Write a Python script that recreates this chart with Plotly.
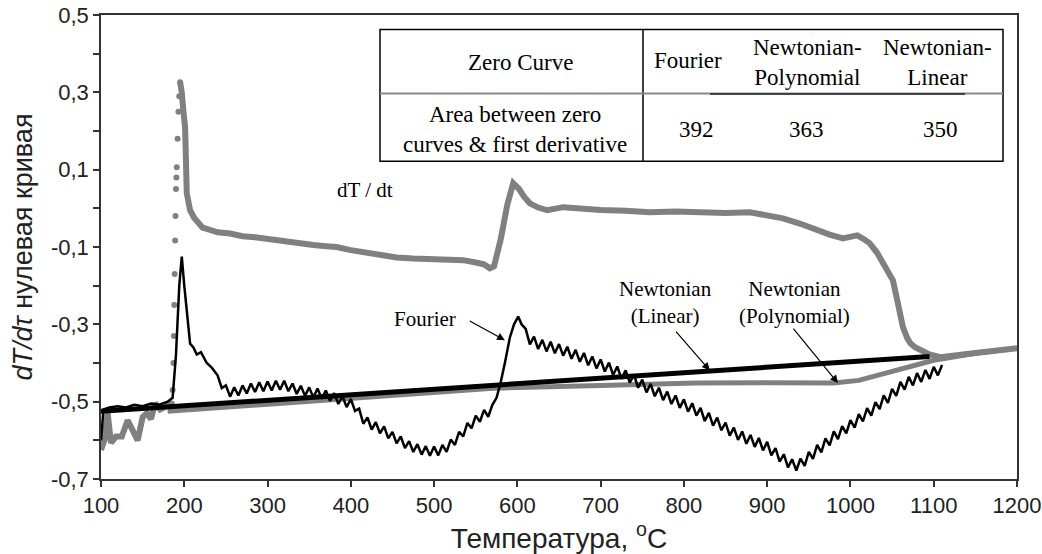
import plotly.graph_objects as go

# ---------------- data ----------------
# dT/dt: low-temperature part, steep rise (drawn as dots in the source), and the rest
dtdt_pre_t = [100, 104, 108, 112, 118, 125, 132, 138, 144, 150, 155, 160, 165, 171, 177, 185]
dtdt_pre_v = [-0.625, -0.600, -0.530, -0.607, -0.590, -0.590, -0.548, -0.575, -0.600, -0.540,
              -0.530, -0.545, -0.504, -0.520, -0.514, -0.505]
dtdt_rise_t = [185, 186, 187, 187.5, 188, 188.5, 189, 189.5, 190, 190.5, 191, 192, 193, 194, 195]
dtdt_rise_v = [-0.505, -0.470, -0.400, -0.330, -0.250, -0.170, -0.083, -0.020, 0.050, 0.080,
               0.106, 0.180, 0.250, 0.290, 0.326]
dtdt_post_t = [195, 197, 199, 201, 203, 205, 207, 212, 217, 222,
               230, 240, 255, 270, 285, 300, 315, 327, 340, 355, 370, 383, 400, 420, 440, 455,
               475, 495, 515, 535, 550, 560, 567, 572, 580, 588, 595, 602, 608, 615, 625, 636,
               655, 680, 700, 730, 759, 790, 820, 850, 879, 900, 919, 940, 960, 975, 991, 1000,
               1008, 1015, 1023, 1032, 1039, 1045, 1051, 1057, 1063, 1068, 1072, 1078, 1084,
               1095, 1108, 1120, 1135, 1150, 1159, 1175, 1190, 1200]
dtdt_post_v = [0.326, 0.300, 0.250, 0.210, 0.039, 0.010, -0.005, -0.025, -0.040, -0.050,
               -0.055, -0.062, -0.065, -0.072, -0.075, -0.080, -0.085, -0.088, -0.092, -0.095,
               -0.098, -0.100, -0.108, -0.115, -0.122, -0.127,
               -0.130, -0.132, -0.133, -0.134, -0.140, -0.145, -0.155, -0.150, -0.080, 0.010,
               0.065, 0.050, 0.030, 0.013, 0.002, -0.005,
               0.003, -0.002, -0.004, -0.006, -0.010, -0.008, -0.010, -0.012, -0.010, -0.018,
               -0.026, -0.040, -0.057, -0.068, -0.078, -0.074,
               -0.070, -0.078, -0.090, -0.115, -0.142, -0.165, -0.186, -0.246, -0.307, -0.335,
               -0.349, -0.360, -0.367,
               -0.378, -0.385, -0.383, -0.378, -0.374, -0.372, -0.368, -0.364, -0.362]

fourier_t = [100, 103, 110, 120, 130, 140, 150, 160, 170, 180, 186, 190, 194, 197, 200, 203,
             207, 211, 215, 220, 227, 233,
             240, 245, 250, 255, 260, 265, 270, 275, 280, 285, 290, 295, 300, 305, 310, 315,
             320, 325, 330, 335, 340, 345, 350, 355, 360, 365, 370, 375, 380, 385, 390, 395,
             400, 405, 410, 415, 420, 425, 430, 435, 440, 445, 450, 455, 460, 465, 470, 475,
             480, 485, 490, 495, 500, 505, 510, 515, 520, 525, 530, 535, 540, 545, 550, 555,
             560, 565, 570, 575, 580, 585, 591, 596, 601, 605,
             610, 615, 620, 625, 630, 635, 640, 645, 650, 655, 660, 665, 670, 675, 680, 685,
             690, 695, 700, 705, 710, 715, 720, 725, 730, 735, 740, 745, 750, 755, 760, 765,
             770, 775, 780, 785, 790, 795, 800, 805, 810, 815, 820, 825, 830, 835, 840, 845,
             850, 855, 860, 865, 870, 875, 880, 885, 890, 895, 900, 905, 910, 915, 920, 925,
             930, 935, 940, 945, 950, 955, 960, 965, 970, 975, 980, 985, 990, 995, 1000, 1005,
             1010, 1015, 1020, 1025, 1030, 1035, 1040, 1045, 1050, 1055, 1060, 1065, 1070,
             1075, 1080, 1085, 1090, 1095, 1100, 1105, 1110]
fourier_v = [-0.600, -0.520, -0.515, -0.512, -0.515, -0.508, -0.512, -0.505, -0.508, -0.500,
             -0.490, -0.380, -0.200, -0.125, -0.200, -0.270,
             -0.350, -0.360, -0.378, -0.372, -0.400, -0.412,
             -0.432, -0.465, -0.458, -0.487, -0.463, -0.484, -0.458, -0.479, -0.453, -0.475,
             -0.450, -0.473, -0.448, -0.471, -0.446, -0.469,
             -0.446, -0.473, -0.453, -0.480, -0.459, -0.485, -0.463, -0.489, -0.466, -0.492,
             -0.471, -0.498, -0.478, -0.506, -0.486, -0.514,
             -0.493, -0.524, -0.518, -0.557, -0.541, -0.572, -0.553, -0.582, -0.564, -0.595,
             -0.578, -0.608, -0.590, -0.620, -0.602, -0.630,
             -0.610, -0.637, -0.615, -0.640, -0.616, -0.639, -0.612, -0.630, -0.598, -0.612,
             -0.578, -0.590, -0.555, -0.569, -0.536, -0.552,
             -0.521, -0.539, -0.508, -0.490, -0.450, -0.400, -0.334, -0.300, -0.280, -0.300,
             -0.312, -0.352, -0.332, -0.364, -0.340, -0.370, -0.345, -0.375, -0.351, -0.381,
             -0.358, -0.389, -0.366, -0.397, -0.374, -0.406,
             -0.383, -0.414, -0.391, -0.422, -0.399, -0.431, -0.409, -0.441, -0.419, -0.451,
             -0.430, -0.464, -0.443, -0.476, -0.454, -0.486,
             -0.464, -0.496, -0.474, -0.506, -0.484, -0.516, -0.494, -0.526, -0.504, -0.536,
             -0.516, -0.550, -0.529, -0.562, -0.541, -0.574,
             -0.554, -0.588, -0.567, -0.599, -0.577, -0.609, -0.586, -0.617, -0.594, -0.626,
             -0.604, -0.639, -0.620, -0.655, -0.636, -0.670,
             -0.649, -0.678, -0.647, -0.666, -0.630, -0.648, -0.612, -0.631, -0.595, -0.613,
             -0.577, -0.597, -0.563, -0.582, -0.548, -0.567,
             -0.532, -0.551, -0.517, -0.536, -0.501, -0.519, -0.484, -0.503, -0.467, -0.485,
             -0.449, -0.469, -0.436,
             -0.458, -0.426, -0.449, -0.418, -0.441, -0.410, -0.432, -0.405]

linear_t = [100, 1095]
linear_v = [-0.525, -0.383]

poly_t = [180, 260, 350, 450, 575, 700, 815, 900, 980, 1010, 1040, 1070, 1100, 1150, 1200]
poly_v = [-0.525, -0.513, -0.500, -0.485, -0.465, -0.458, -0.452, -0.451, -0.452, -0.445,
          -0.428, -0.410, -0.393, -0.375, -0.362]

y_tickvals = [0.5, 0.4, 0.3, 0.2, 0.1, 0.0, -0.1, -0.2, -0.3, -0.4, -0.5, -0.6, -0.7]
y_ticktext = ['0,5', '', '0,3', '', '0,1', '', '-0,1', '', '-0,3', '', '-0,5', '', '-0,7']
x_tickvals = [100, 200, 300, 400, 500, 600, 700, 800, 900, 1000, 1100, 1200]

table_header = ['Zero Curve', 'Fourier', 'Newtonian-<br>Polynomial', 'Newtonian-<br>Linear']
table_row = ['Area between zero<br>curves & first derivative', '392', '363', '350']

# ---------------- figure ----------------
GRAY = '#808080'
SERIF = 'Liberation Serif, Times New Roman, serif'
SANS = 'Liberation Sans, Arial, sans-serif'

fig = go.Figure()
fig.add_trace(go.Scatter(x=poly_t, y=poly_v, mode='lines',
                         line=dict(color=GRAY, width=5), name='Newtonian (Polynomial)'))
fig.add_trace(go.Scatter(x=dtdt_pre_t + [None] + dtdt_post_t,
                         y=dtdt_pre_v + [None] + dtdt_post_v, mode='lines',
                         line=dict(color=GRAY, width=6), name='dT/dt'))
fig.add_trace(go.Scatter(x=dtdt_rise_t, y=dtdt_rise_v, mode='markers',
                         marker=dict(color=GRAY, size=6), name='dT/dt rise'))
fig.add_trace(go.Scatter(x=linear_t, y=linear_v, mode='lines',
                         line=dict(color='black', width=5), name='Newtonian (Linear)'))
fig.add_trace(go.Scatter(x=fourier_t, y=fourier_v, mode='lines',
                         line=dict(color='black', width=2.5), name='Fourier'))

annos = []
annos.append(dict(x=417, y=0.047, text='dT / dt', showarrow=False,
                  font=dict(family=SERIF, size=21, color='black')))
annos.append(dict(x=489, y=-0.285, text='Fourier', showarrow=False,
                  font=dict(family=SERIF, size=21, color='black')))
annos.append(dict(x=778, y=-0.243, text='Newtonian<br>(Linear)', showarrow=False,
                  font=dict(family=SERIF, size=21, color='black')))
annos.append(dict(x=933, y=-0.243, text='Newtonian<br>(Polynomial)', showarrow=False,
                  font=dict(family=SERIF, size=21, color='black')))
for tip, tail in [((585, -0.341), (541, -0.289)),
                  ((831, -0.419), (789, -0.315)),
                  ((985, -0.452), (930, -0.307))]:
    annos.append(dict(x=tip[0], y=tip[1], ax=tail[0], ay=tail[1], axref='x', ayref='y',
                      xref='x', yref='y', text='', showarrow=True, arrowhead=2,
                      arrowsize=1.3, arrowwidth=1.2, arrowcolor='black'))

# table (positions in page pixels, converted to paper coords)
px0, px1 = 101, 1017
py0, py1 = 14.5, 479
def fx(p):
    return (p - px0) / (px1 - px0)
def fy(p):
    return (py1 - p) / (py1 - py0)

TFONT = dict(family=SERIF, size=23, color='black')
hx = [520, 688, 807, 937]
for t, cx in zip(table_header, hx):
    annos.append(dict(xref='paper', yref='paper', x=fx(cx), y=fy(62 if t != 'Fourier' else 60),
                      text=t, showarrow=False, xanchor='center', yanchor='middle', font=TFONT))
rx = [515, 696, 806, 940]
for t, cx in zip(table_row, rx):
    annos.append(dict(xref='paper', yref='paper', x=fx(cx), y=fy(129),
                      text=t, showarrow=False, xanchor='center', yanchor='middle', font=TFONT))

shapes = [
    dict(type='rect', xref='paper', yref='paper', x0=fx(380), x1=fx(1003), y0=fy(161), y1=fy(29),
         line=dict(color='black', width=1.5), fillcolor='white', layer='below'),
    dict(type='line', xref='paper', yref='paper', x0=fx(643), x1=fx(643), y0=fy(161), y1=fy(29),
         line=dict(color='black', width=1.5)),
    dict(type='line', xref='paper', yref='paper', x0=fx(380), x1=fx(1003), y0=fy(93), y1=fy(93),
         line=dict(color='#8a8a8a', width=2)),
    dict(type='line', xref='paper', yref='paper', x0=fx(710), x1=fx(965), y0=fy(93.5), y1=fy(93.5),
         line=dict(color='#222222', width=1.5)),
]

fig.update_layout(
    template='none',
    width=1042, height=554,
    margin=dict(l=101, r=25, t=14.5, b=75, autoexpand=False),
    paper_bgcolor='white', plot_bgcolor='white',
    showlegend=False,
    annotations=annos, shapes=shapes,
    font=dict(family=SANS, color='#222222'),
)
fig.update_xaxes(range=[100, 1200], tickvals=x_tickvals, ticks='outside', ticklen=6,
                 tickwidth=1.5, tickcolor='#333333', showline=True, linecolor='#333333',
                 linewidth=1.5, mirror=True, showgrid=False, zeroline=False, automargin=False,
                 ticklabeloverflow='allow',
                 tickfont=dict(family=SANS, size=22, color='#222222'),
                 title=dict(text='Температура, <sup>o</sup>C', standoff=6,
                            font=dict(family=SANS, size=28, color='#222222')))
fig.update_yaxes(range=[-0.7, 0.5], tickvals=y_tickvals, ticktext=y_ticktext, ticks='outside',
                 ticklen=6, tickwidth=1.5, tickcolor='#333333', showline=True,
                 linecolor='#333333', linewidth=1.5, mirror=True, showgrid=False, zeroline=False,
                 automargin=False, ticklabeloverflow='allow',
                 tickfont=dict(family=SANS, size=22, color='#222222'),
                 title=dict(text='<i>dT/dτ</i> нулевая кривая', standoff=10,
                            font=dict(family=SANS, size=27, color='#222222')))

# remove the default 8px page margin so the figure sits at the window's top-left corner
fig.write_html('out.html', config={'displayModeBar': False},
               post_script="document.body.style.margin='0px';")
